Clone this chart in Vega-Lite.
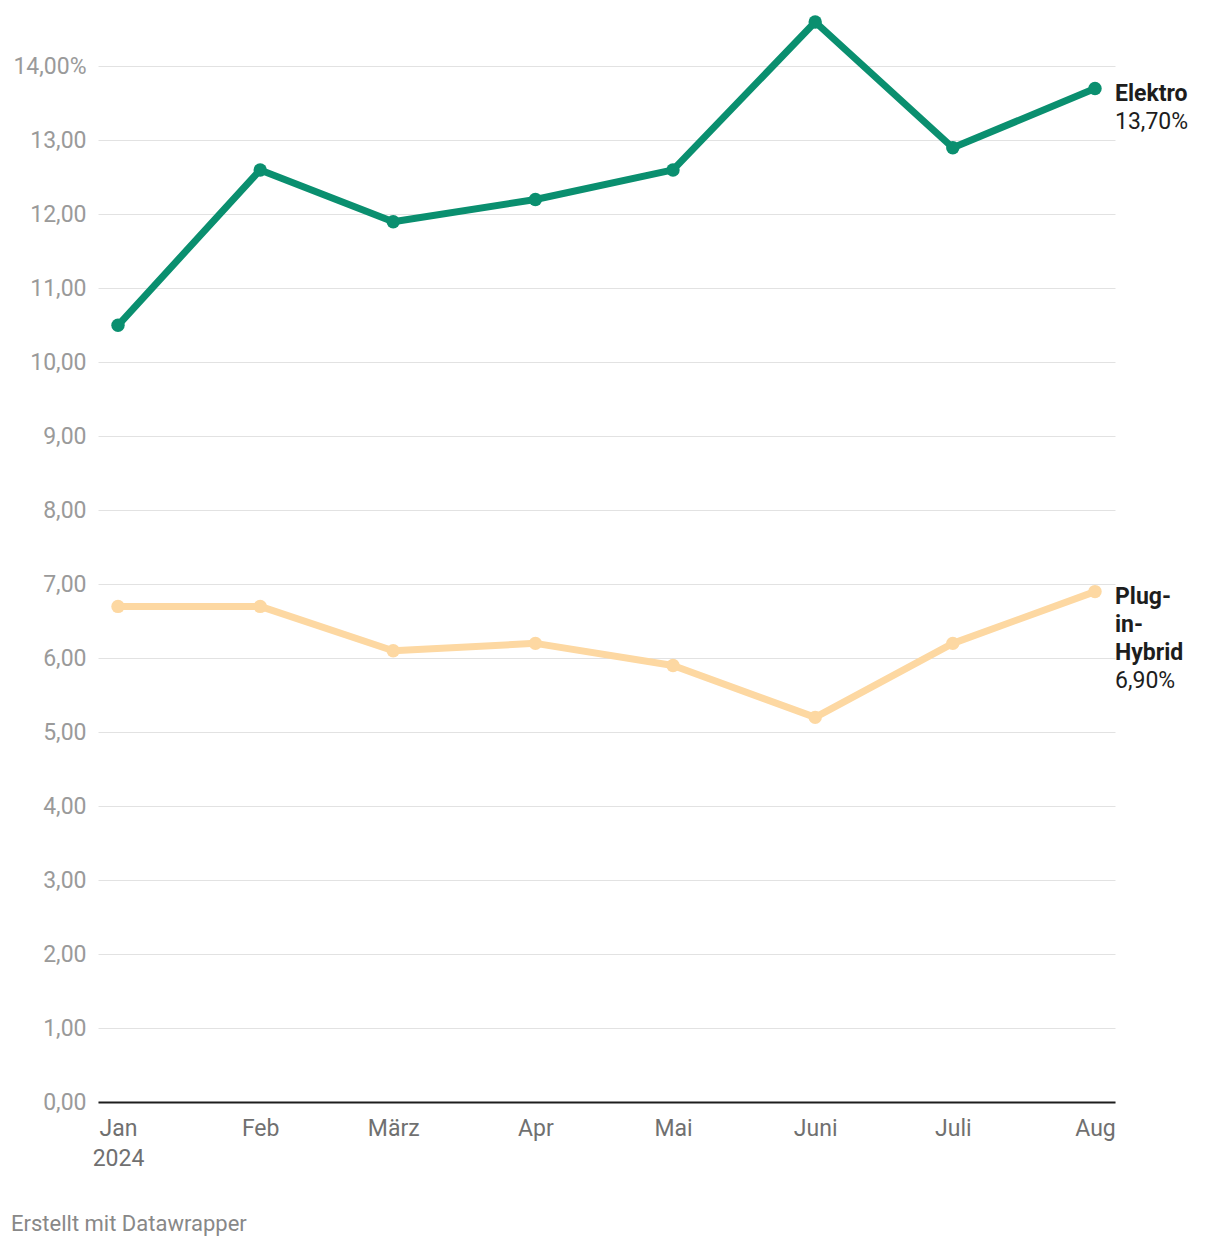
{
  "$schema": "https://vega.github.io/schema/vega-lite/v6.json",
  "width": 1017,
  "height": 1080,
  "autosize": {"type": "none"},
  "padding": {"left": 98, "top": 22, "right": 105, "bottom": 146},
  "background": "white",
  "config": {
    "font": "Roboto",
    "view": {"stroke": null}
  },
  "title": {
    "text": "Erstellt mit Datawrapper",
    "orient": "bottom",
    "anchor": "start",
    "frame": "group",
    "dx": -87,
    "offset": 44,
    "fontSize": 22,
    "fontWeight": "normal",
    "color": "#888888",
    "font": "Roboto"
  },
  "datasets": {
    "werte": [
      {"datum": "2024-01-01", "serie": "Elektro", "wert": 10.5},
      {"datum": "2024-02-01", "serie": "Elektro", "wert": 12.6},
      {"datum": "2024-03-01", "serie": "Elektro", "wert": 11.9},
      {"datum": "2024-04-01", "serie": "Elektro", "wert": 12.2},
      {"datum": "2024-05-01", "serie": "Elektro", "wert": 12.6},
      {"datum": "2024-06-01", "serie": "Elektro", "wert": 14.6},
      {"datum": "2024-07-01", "serie": "Elektro", "wert": 12.9},
      {"datum": "2024-08-01", "serie": "Elektro", "wert": 13.7},
      {"datum": "2024-01-01", "serie": "Plug-in-Hybrid", "wert": 6.7},
      {"datum": "2024-02-01", "serie": "Plug-in-Hybrid", "wert": 6.7},
      {"datum": "2024-03-01", "serie": "Plug-in-Hybrid", "wert": 6.1},
      {"datum": "2024-04-01", "serie": "Plug-in-Hybrid", "wert": 6.2},
      {"datum": "2024-05-01", "serie": "Plug-in-Hybrid", "wert": 5.9},
      {"datum": "2024-06-01", "serie": "Plug-in-Hybrid", "wert": 5.2},
      {"datum": "2024-07-01", "serie": "Plug-in-Hybrid", "wert": 6.2},
      {"datum": "2024-08-01", "serie": "Plug-in-Hybrid", "wert": 6.9}
    ],
    "beschriftung": [
      {"datum": "2024-08-01", "serie": "Elektro", "wert": 13.7, "name": "Elektro", "zahl": "13,70%"},
      {"datum": "2024-08-01", "serie": "Plug-in-Hybrid", "wert": 6.9, "name": "Plug-\nin-\nHybrid", "zahl": "6,90%"}
    ]
  },
  "encoding": {
    "x": {
      "field": "datum",
      "type": "temporal",
      "scale": {
        "type": "utc",
        "domain": [{"year": 2024, "month": 1, "date": 1, "utc": true}, {"year": 2024, "month": 8, "date": 1, "utc": true}],
        "padding": 20,
        "nice": false
      },
      "axis": {
        "title": null,
        "grid": false,
        "ticks": false,
        "domain": true,
        "domainColor": "#1d1d1d",
        "domainWidth": 2,
        "labelFontSize": 23,
        "labelColor": "#707070",
        "labelPadding": 15,
        "labelLineHeight": 30,
        "labelBaseline": "top",
        "labelFlush": false,
        "labelOverlap": false,
        "values": [
          {"year": 2024, "month": 1, "date": 1, "utc": true},
          {"year": 2024, "month": 2, "date": 1, "utc": true},
          {"year": 2024, "month": 3, "date": 1, "utc": true},
          {"year": 2024, "month": 4, "date": 1, "utc": true},
          {"year": 2024, "month": 5, "date": 1, "utc": true},
          {"year": 2024, "month": 6, "date": 1, "utc": true},
          {"year": 2024, "month": 7, "date": 1, "utc": true},
          {"year": 2024, "month": 8, "date": 1, "utc": true}
        ],
        "labelExpr": "utcmonth(datum.value) == 0 ? ['Jan', '2024'] : ['Jan','Feb','März','Apr','Mai','Juni','Juli','Aug'][utcmonth(datum.value)]"
      }
    },
    "y": {
      "field": "wert",
      "type": "quantitative",
      "scale": {"domain": [0, 14.6], "nice": false, "zero": true},
      "axis": {
        "title": null,
        "domain": false,
        "ticks": false,
        "grid": true,
        "gridColor": "#e2e2e2",
        "gridWidth": 1,
        "labelFontSize": 23,
        "labelColor": "#9a9a9a",
        "labelPadding": 12,
        "values": [0, 1, 2, 3, 4, 5, 6, 7, 8, 9, 10, 11, 12, 13, 14],
        "labelExpr": "replace(format(datum.value, '.2f'), '.', ',') + (datum.value == 14 ? '%' : '')"
      }
    },
    "color": {
      "field": "serie",
      "type": "nominal",
      "scale": {"domain": ["Elektro", "Plug-in-Hybrid"], "range": ["#0a8f6f", "#fdd8a2"]},
      "legend": null
    }
  },
  "layer": [
    {
      "data": {"name": "werte"},
      "mark": {"type": "line", "strokeWidth": 7, "strokeJoin": "round", "strokeCap": "round"}
    },
    {
      "data": {"name": "werte"},
      "mark": {"type": "circle", "size": 180, "opacity": 1}
    },
    {
      "data": {"name": "beschriftung"},
      "mark": {"type": "text", "align": "left", "baseline": "top", "dx": 20, "dy": -6, "fontSize": 23, "fontWeight": "bold", "lineHeight": 28, "lineBreak": "\n"},
      "encoding": {"text": {"field": "name"}, "color": {"value": "#1d1d1d"}}
    },
    {
      "data": {"name": "beschriftung"},
      "transform": [{"filter": "datum.serie == 'Elektro'"}],
      "mark": {"type": "text", "align": "left", "baseline": "top", "dx": 20, "dy": 22, "fontSize": 23, "fontWeight": "normal"},
      "encoding": {"text": {"field": "zahl"}, "color": {"value": "#1d1d1d"}}
    },
    {
      "data": {"name": "beschriftung"},
      "transform": [{"filter": "datum.serie == 'Plug-in-Hybrid'"}],
      "mark": {"type": "text", "align": "left", "baseline": "top", "dx": 20, "dy": 78, "fontSize": 23, "fontWeight": "normal"},
      "encoding": {"text": {"field": "zahl"}, "color": {"value": "#1d1d1d"}}
    }
  ]
}
